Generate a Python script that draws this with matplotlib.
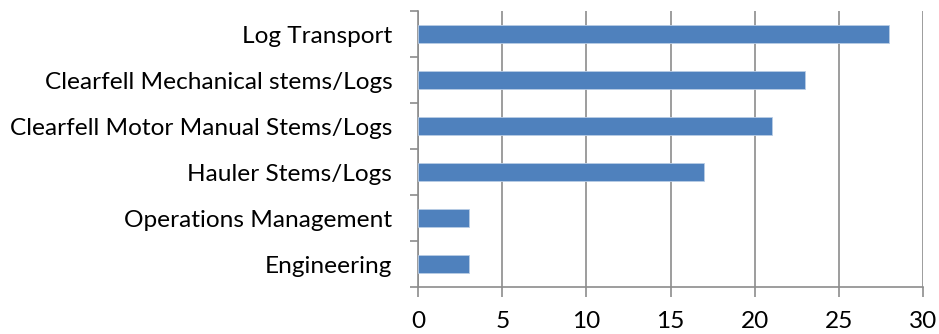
import numpy as np
import matplotlib
matplotlib.use("Agg")
import matplotlib.pyplot as plt

plt.rcParams['font.family'] = ['Lato', 'DejaVu Sans']

# activities, bottom to top
activities = ['Engineering', 'Operations Management', 'Hauler Stems/Logs',
              'Clearfell Motor Manual Stems/Logs', 'Clearfell Mechanical stems/Logs',
              'Log Transport']
counts = [3, 3, 17, 21, 23, 28]
x_ticks = [0, 5, 10, 15, 20, 25, 30]

grey = '#8c8c8c'

fig = plt.figure(figsize=(9.39, 3.34), dpi=100)
ax = fig.add_axes([0.4452, 0.1407, 0.983 - 0.4452, 0.967 - 0.1407])

pos = np.arange(len(activities))
ax.barh(pos, counts, height=0.4, color='#4f81bd', edgecolor='#b9cde5', linewidth=0.6, zorder=3)

ax.set_xlim(0, 30)
ax.set_ylim(-0.5, len(activities) - 0.5)
ax.set_xticks(x_ticks)
ax.set_xticklabels([str(t) for t in x_ticks])
ax.set_yticks(pos)
ax.set_yticklabels(activities)
ax.set_yticks(np.arange(-0.5, len(activities)), minor=True)

ax.grid(axis='x', color=grey, lw=1.2, zorder=1)
for s in ['top', 'right']:
    ax.spines[s].set_visible(False)
for s in ['left', 'bottom']:
    ax.spines[s].set_color(grey)
    ax.spines[s].set_linewidth(1.2)

ax.tick_params(axis='y', which='major', length=0, pad=18.5, labelsize=17.6)
ax.tick_params(axis='y', which='minor', length=6, width=1.2, color=grey)
ax.tick_params(axis='x', length=7, width=1.2, color=grey, pad=10, labelsize=17.6)

fig.savefig('out.png', dpi=100)
